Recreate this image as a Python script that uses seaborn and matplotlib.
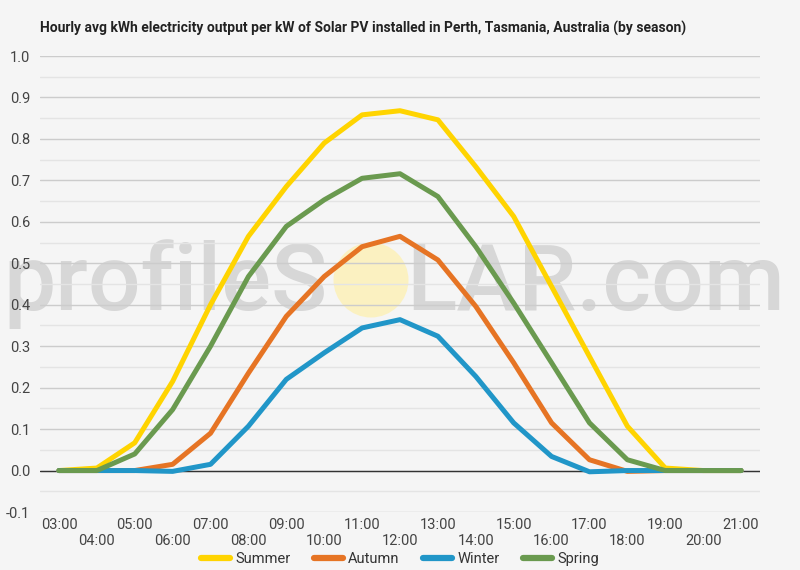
import matplotlib
matplotlib.use("Agg")
import matplotlib.pyplot as plt
import seaborn as sns
import pandas as pd
from matplotlib.patches import Ellipse
from matplotlib.ticker import MultipleLocator

# hourly averages
hours = list(range(3, 22))
hour_labels = [f"{h:02d}:00" for h in hours]
seasons = ["Summer", "Autumn", "Winter", "Spring"]

summer = [0.0, 0.006, 0.067, 0.215, 0.40, 0.565, 0.685, 0.79, 0.858, 0.868,
          0.846, 0.733, 0.613, 0.444, 0.275, 0.107, 0.006, 0.0, 0.0]
autumn = [0.0, 0.0, 0.0, 0.015, 0.09, 0.235, 0.372, 0.468, 0.54, 0.565,
          0.508, 0.396, 0.26, 0.115, 0.026, -0.002, 0.0, 0.0, 0.0]
winter = [0.0, 0.0, 0.0, -0.002, 0.015, 0.107, 0.22, 0.284, 0.344, 0.364,
          0.324, 0.227, 0.115, 0.034, -0.003, 0.0, 0.0, 0.0, 0.0]
spring = [0.0, 0.0, 0.04, 0.147, 0.30, 0.468, 0.589, 0.653, 0.705, 0.716,
          0.661, 0.54, 0.404, 0.26, 0.115, 0.026, 0.0, 0.0, 0.0]

colors = {"Summer": "#FFD400", "Autumn": "#E67424",
          "Winter": "#2196C8", "Spring": "#6A9A4F"}

rows = []
for name, vals in zip(seasons, [summer, autumn, winter, spring]):
    for h, v in zip(hours, vals):
        rows.append({"hour": h, "kwh": v, "season": name})
df = pd.DataFrame(rows)

sns.set_theme(style="white")
plt.rcParams["font.family"] = ["Roboto", "DejaVu Sans"]

bg = "#f5f5f5"
fig = plt.figure(figsize=(8, 5.7), dpi=100, facecolor=bg)
ax = fig.add_axes([0.05, 1 - 512 / 570, 0.90, (512 - 56) / 570])
ax.set_facecolor(bg)

# watermark
ax.text(0.004, 1 - 310 / 570, "profileS", transform=fig.transFigure,
        fontsize=67, fontweight="medium", color="#d7d7d7", ha="left",
        va="baseline", zorder=0.2, clip_on=False)
ax.text(0.981, 1 - 310 / 570, "LAR.com", transform=fig.transFigure,
        fontsize=67, fontweight="medium", color="#d7d7d7", ha="right",
        va="baseline", zorder=0.2, clip_on=False)
sun = Ellipse((371 / 800, 1 - 280 / 570), 75 / 800, 75 / 570,
              transform=fig.transFigure, facecolor="#fdf1b8",
              edgecolor="none", alpha=0.85, zorder=0.3)
ax.add_artist(sun)

sns.lineplot(data=df, x="hour", y="kwh", hue="season", hue_order=seasons,
             palette=colors, linewidth=3.6, ax=ax, legend=False,
             solid_capstyle="round", solid_joinstyle="round", zorder=3)

ax.set_xlim(2.5, 21.5)
ax.set_ylim(-0.1, 1.0)
ax.yaxis.set_major_locator(MultipleLocator(0.1))
ax.yaxis.set_minor_locator(MultipleLocator(0.05))
ax.set_axisbelow(True)
ax.grid(which="major", axis="y", color="#cccccc", linewidth=1)
ax.grid(which="minor", axis="y", color="#e4e4e4", linewidth=1)
ax.axhline(0, color="#333333", linewidth=1, zorder=1)
for s in ax.spines.values():
    s.set_visible(False)

ax.set_xticks(hours)
ax.set_xticklabels([lab if h % 2 else "\n" + lab for h, lab in zip(hours, hour_labels)])
ax.set_yticks([i / 10 for i in range(-1, 11)])
ax.set_yticklabels([f"{i / 10:.1f}" for i in range(-1, 11)])
ax.tick_params(axis="x", length=0, pad=4, labelsize=10.5, labelcolor="#444444")
ax.tick_params(axis="y", which="both", length=0, pad=7, labelsize=10.5, labelcolor="#444444")
ax.set_xlabel("")
ax.set_ylabel("")

fig.text(0.05, 1 - 28 / 570,
         "Hourly avg kWh electricity output per kW of Solar PV installed in Perth, Tasmania, Australia (by season)",
         fontsize=10, fontweight="bold", color="#222222", ha="left", va="center")

handles = [plt.Line2D([], [], color=colors[s], linewidth=4.5) for s in seasons]
fig.legend(handles, seasons, loc="center", bbox_to_anchor=(0.5, 1 - 559 / 570),
           ncol=4, frameon=False, fontsize=10.5, handlelength=2.0,
           handletextpad=0.35, columnspacing=1.6, labelcolor="#333333")

fig.savefig("out.png", dpi=100, facecolor=bg)
